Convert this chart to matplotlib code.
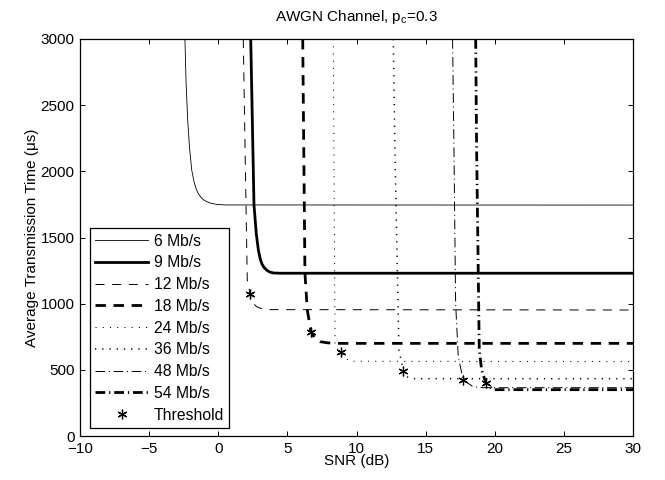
import matplotlib
matplotlib.use("Agg")
import matplotlib.pyplot as plt

plt.rcParams['font.family'] = ['Liberation Sans', 'DejaVu Sans']
plt.rcParams['lines.scale_dashes'] = False

# Data
snr_6 = [-2.41, -2.33, -2.21, -2.08, -1.92, -1.75, -1.6, -1.47, -1.25, -1.05,
         -0.84, -0.5, -0.1, 0.5, 30]
t_6 = [3000, 2680, 2388, 2180, 2010, 1920, 1868, 1836, 1803, 1784,
       1771, 1758, 1750, 1746, 1745]

snr_9 = [2.35, 2.585, 2.75, 2.9, 3.02, 3.14, 3.3, 3.5, 3.7, 3.98, 4.5, 30]
t_9 = [3000, 1746, 1530, 1406, 1345, 1305, 1275, 1254, 1240, 1232, 1230, 1230]

snr_12 = [1.81, 1.95, 2.1, 2.3, 2.4, 2.55, 2.78, 3.1, 3.6, 30]
t_12 = [3000, 2100, 1179, 1073, 1035, 1000, 977, 963, 955, 952]

snr_18 = [6.11, 6.27, 6.44, 6.71, 7.0, 7.36, 7.9, 8.57, 30]
t_18 = [3000, 1232, 952, 788, 735, 713, 704, 700, 700]

snr_24 = [8.32, 8.45, 8.8, 9.17, 9.53, 30]
t_24 = [3000, 675, 637, 590, 565, 562]

snr_36 = [12.66, 12.78, 13.07, 13.39, 13.62, 14.1, 30]
t_36 = [3000, 2161, 650, 494, 448, 433, 433]

snr_48 = [16.95, 17.05, 17.17, 17.36, 17.72, 18.43, 19.2, 30]
t_48 = [3000, 2161, 1003, 599, 423, 373, 365, 365]

snr_54 = [18.62, 18.69, 18.88, 19.05, 19.37, 19.9, 30]
t_54 = [3000, 2161, 650, 499, 398, 350, 350]

thr_snr = [2.3, 6.71, 8.86, 13.39, 17.72, 19.37]
thr_t = [1073, 788, 632, 494, 423, 398]

labels = ['6 Mb/s', '9 Mb/s', '12 Mb/s', '18 Mb/s', '24 Mb/s', '36 Mb/s',
          '48 Mb/s', '54 Mb/s', 'Threshold']

fig = plt.figure(figsize=(6.65, 4.8), dpi=100)
ax = fig.add_axes([80/665, 44/480, 553/665, 397/480])

k = 'black'
ax.plot(snr_6, t_6, color=k, lw=0.6, ls='-', label=labels[0])
ax.plot(snr_9, t_9, color=k, lw=2.0, ls='-', label=labels[1])
ax.plot(snr_12, t_12, color=k, lw=0.7, dashes=(6.5, 5.5), label=labels[2])
ax.plot(snr_18, t_18, color=k, lw=2.0, dashes=(7.5, 5.5), label=labels[3])
ax.plot(snr_24, t_24, color=k, lw=0.7, dashes=(0.8, 4.4), label=labels[4])
ax.plot(snr_36, t_36, color=k, lw=1.1, dashes=(0.9, 4.3), label=labels[5])
ax.plot(snr_48, t_48, color=k, lw=0.7, dashes=(7.0, 2.6, 0.8, 2.6), label=labels[6])
ax.plot(snr_54, t_54, color=k, lw=2.0, dashes=(7.0, 2.8, 0.9, 2.8), label=labels[7])
ax.plot(thr_snr, thr_t, ls='none', marker=(6, 2, 0), ms=7, mew=0.9,
        color=k, label=labels[8])

ax.set_xlim(-10, 30)
ax.set_ylim(0, 3000)
ax.set_xticks(range(-10, 31, 5))
ax.set_yticks(range(0, 3001, 500))
ax.tick_params(direction='in', length=3.6, width=0.7, top=True, right=True,
               labelsize=11, pad=4)
for s in ax.spines.values():
    s.set_linewidth(0.9)

ax.set_xlabel('SNR (dB)', fontsize=11, labelpad=-1)
ax.set_ylabel('Average Transmission Time (\u03bcs)', fontsize=11, labelpad=1)
ax.set_title('AWGN Channel, p$_\\mathregular{c}$=0.3', fontsize=11, pad=13)

leg = ax.legend(loc='lower left', bbox_to_anchor=(0.018, 0.02), borderaxespad=0,
                fontsize=11.3, handlelength=3.35, handletextpad=0.35,
                labelspacing=0.43, borderpad=0.35, fancybox=False,
                edgecolor='black', framealpha=1, numpoints=1)
leg.get_frame().set_linewidth(0.9)

fig.savefig('out.png', dpi=100)
